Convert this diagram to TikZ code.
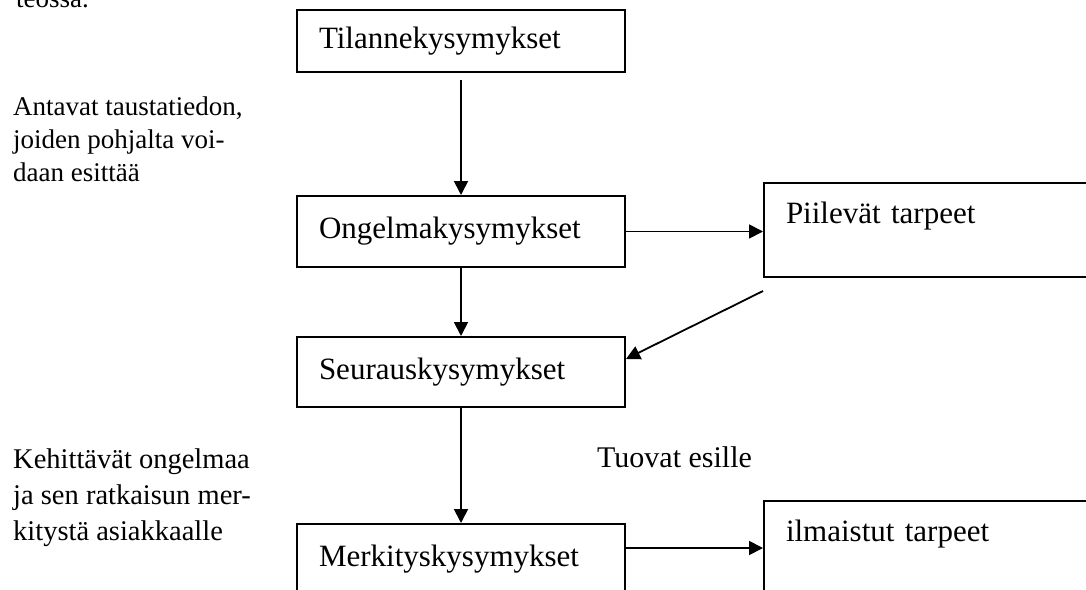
\documentclass[tikz,border=0pt]{standalone}
\usepackage{fontspec}
\setmainfont{Liberation Serif}
\usetikzlibrary{arrows.meta}

\begin{document}
\begin{tikzpicture}[x=1pt, y=-1pt,
    kysbox/.style={draw, line width=2pt, anchor=north west, text width=284pt, inner xsep=22pt, inner ysep=0pt,
        minimum height=#1, text height=21pt, text depth=7pt, align=left, font=\fontsize{31}{36}\selectfont},
    tarvebox/.style={draw, line width=2pt, anchor=north west, text width=400pt, inner xsep=22pt, inner ysep=12pt,
        text height=28pt, text depth=42pt, align=left, font=\fontsize{31}{36}\selectfont},
    sivu/.style={anchor=base west, inner sep=0pt, align=left, font=\fontsize{28.5}{#1}\selectfont},
    nuoli/.style={line width=1.8pt, -{Triangle[length=14pt, width=14pt]}}]
    \useasboundingbox (0,0) rectangle (1086,589);

    % kysymyslaatikot
    \node[kysbox=62pt] (tilanne) at (296,9) {Tilannekysymykset};
    \node[kysbox=71pt] (ongelma) at (296,195) {Ongelmakysymykset};
    \node[kysbox=70pt] (seuraus) at (296,336) {Seurauskysymykset};
    \node[kysbox=70pt] (merkitys) at (296,523) {Merkityskysymykset};

    % tarpeet oikealla
    \node[tarvebox] (piilevat) at (763,182) {Piilevät tarpeet};
    \node[tarvebox] (ilmaistut) at (763,500) {ilmaistut tarpeet};

    % selitykset (ankkuri = viimeisen rivin perusviiva)
    \node[sivu=33, font=\fontsize{27}{33}\selectfont] (teossa) at (16,8) {teossa.};
    \node[sivu=33, font=\fontsize{27}{33}\selectfont] (antavat) at (13,181) {Antavat taustatiedon,\\joiden pohjalta voi-\\daan esittää};
    \node[sivu=36] (kehittavat) at (13,540) {Kehittävät ongelmaa\\ja sen ratkaisun mer-\\kitystä asiakkaalle};
    \node[sivu=36, font=\fontsize{30}{36}\selectfont] (tuovat) at (597,467) {Tuovat esille};

    % nuolet
    \draw[nuoli, shorten <=7pt] (tilanne) -- (ongelma);
    \draw[nuoli] (ongelma) -- (seuraus);
    \draw[nuoli] (seuraus) -- (merkitys);
    \draw[nuoli] (ongelma.east) -- (ongelma.east -| piilevat.west);
    \coordinate (piilevat-ala) at ([yshift=-13pt]piilevat.south west);
    \draw[nuoli] (piilevat-ala) -- ([yshift=13pt]seuraus.east);
    \draw[nuoli] (merkitys.east |- ilmaistut.west) -- (ilmaistut.west);
\end{tikzpicture}
\end{document}
